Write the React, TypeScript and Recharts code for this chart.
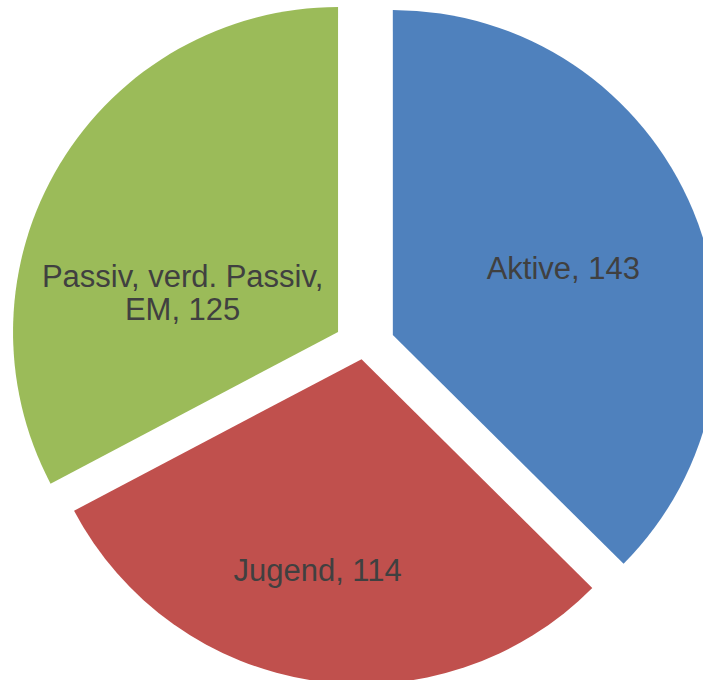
import { PieChart, Pie, Cell, Sector } from 'recharts';

const categories = ['Aktive', 'Jugend', 'Passiv, verd. Passiv, EM'];
const values = [143, 114, 125];
const colors = ['#4F81BD', '#C0504D', '#9BBB59'];

// how far each slice is pulled out from the centre (px)
const explode = [32, 12, 29.5];
// label placement: angle nudge (deg) and radius as a share of the pie radius
const labelNudge = [-1, -3.1, 14.2];
const labelRadius = [0.662, 0.7, 0.581];
// manual line breaks for labels, like the original
const labelLines = [['Aktive, 143'], ['Jugend, 114'], ['Passiv, verd. Passiv,', 'EM, 125']];

const data = categories.map((name, i) => ({ name, value: values[i] }));

const RAD = Math.PI / 180;
const FONT = 31;

function ExplodedSector(props: any) {
  const i = categories.indexOf(props.name ?? props.payload?.name);
  const d = explode[i] ?? 0;
  const dx = d * Math.cos(-props.midAngle * RAD);
  const dy = d * Math.sin(-props.midAngle * RAD);
  return <Sector {...props} cx={props.cx + dx} cy={props.cy + dy} stroke="none" />;
}

function renderLabel(props: any) {
  const { cx, cy, midAngle, outerRadius, index } = props;
  const a = (midAngle + labelNudge[index]) * RAD;
  const r = outerRadius * labelRadius[index];
  const x = cx + r * Math.cos(-a);
  const y = cy + r * Math.sin(-a);
  const lines = labelLines[index];
  const lh = 32.7;
  const capH = FONT * 0.716;
  // first baseline so that the text block is centred on (x, y)
  const first = y + capH / 2 - ((lines.length - 1) * lh) / 2;
  return (
    <text
      x={x}
      y={first}
      textAnchor="middle"
      fill="#404040"
      fontSize={FONT}
      fontFamily="'Liberation Sans', Arial, sans-serif"
    >
      {lines.map((t, k) => (
        <tspan key={k} x={x} y={first + k * lh}>
          {t}
        </tspan>
      ))}
    </text>
  );
}

export default function App() {
  return (
    <div style={{ position: 'absolute', left: 0, top: 0, width: 703, height: 680, background: '#fff' }}>
      <PieChart width={703} height={680} margin={{ top: 0, right: 0, bottom: 0, left: 0 }}>
        <Pie
          data={data}
          dataKey="value"
          nameKey="name"
          cx={363.3}
          cy={347.3}
          outerRadius={325}
          startAngle={90}
          endAngle={-270}
          stroke="none"
          shape={ExplodedSector}
          label={renderLabel}
          labelLine={false}
          isAnimationActive={false}
        >
          {data.map((d, i) => (
            <Cell key={d.name} fill={colors[i]} />
          ))}
        </Pie>
      </PieChart>
    </div>
  );
}
